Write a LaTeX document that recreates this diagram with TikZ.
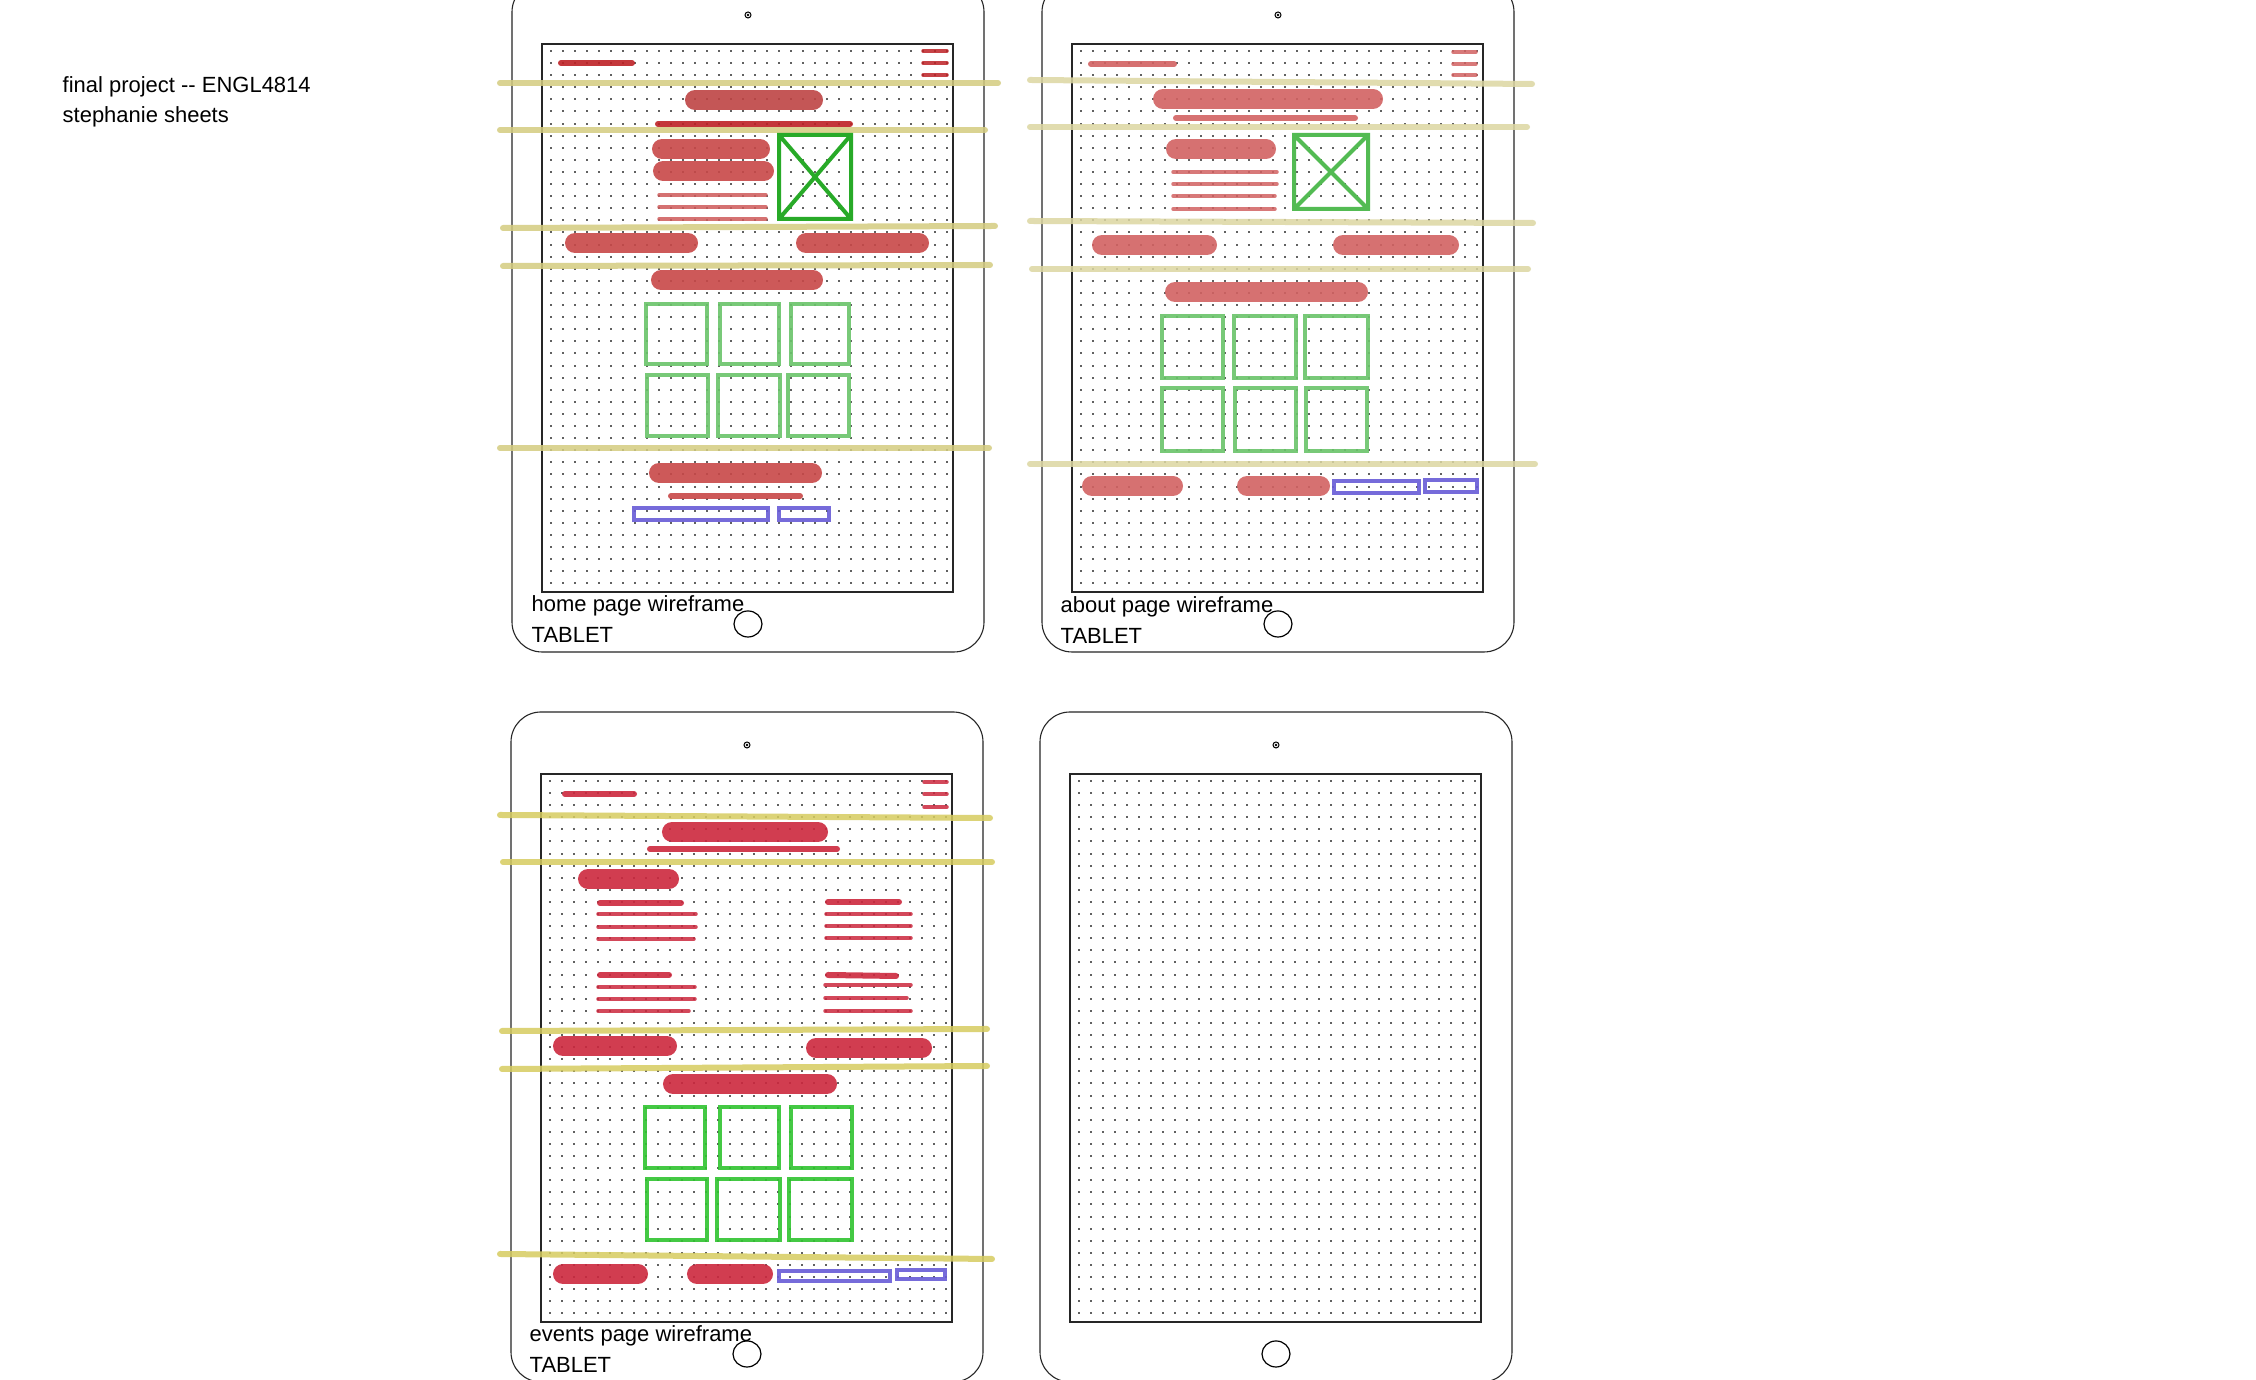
\documentclass[tikz,border=0pt]{standalone}
\usepackage{fontspec}
\setmainfont{Liberation Sans}
\usetikzlibrary{positioning}

\definecolor{guideA}{RGB}{212,204,128}
\definecolor{guideB}{RGB}{220,215,162}
\definecolor{guideC}{RGB}{214,204,96}
\definecolor{homeDark}{RGB}{190,34,38}
\definecolor{homeRed}{RGB}{200,72,72}
\definecolor{aboutRed}{RGB}{210,98,98}
\definecolor{eventRed}{RGB}{204,40,62}
\definecolor{imgGreen}{RGB}{40,170,40}
\definecolor{tileGreen}{RGB}{106,196,106}
\definecolor{brightGreen}{RGB}{48,196,48}
\definecolor{formBlue}{RGB}{104,92,214}

\tikzset{
    device/.style={draw=black!85, line width=0.011cm, rounded corners=0.3cm},
    screenbox/.style={draw=black!85, line width=0.015cm},
    dotrow/.style={draw=black!62, line width=0.02cm, dash pattern=on 0.02cm off 0.1cm},
    guideline/.style={line width=0.06cm, line cap=round, opacity=0.85},
    barthick/.style={line width=0.2cm, line cap=round, opacity=0.9},
    barthin/.style={line width=0.06cm, line cap=round, opacity=0.9},
    linehair/.style={line width=0.035cm, line cap=round, opacity=0.85},
    imgbox/.style={line width=0.04cm},
    tilebox/.style={line width=0.038cm, opacity=0.9},
    inputbox/.style={draw=formBlue, line width=0.036cm, opacity=0.9},
    lbl/.style={font=\fontsize{6.25pt}{7pt}\selectfont, inner sep=0pt, anchor=base west}
}

% one tablet outline with its dotted screen, #1 #2 = shift in px
\newcommand\drawtablet[2]{%
    \begin{scope}[shift={(#1,#2)}]
        \draw[device] (512,-18) rectangle (984,652);
        \foreach \r in {0,...,44}
            \draw[dotrow] (550,{51+12.1*\r}) -- (948,{51+12.1*\r});
        \draw[screenbox] (542,44) rectangle (953,592);
        \draw[line width=0.01cm] (748,15) circle (0.03cm);
        \fill (748,15) circle (0.013cm);
        \draw[line width=0.012cm] (748,624) ellipse (0.14cm and 0.13cm);
    \end{scope}}

\begin{document}
\begin{tikzpicture}[x=0.01cm, y=-0.01cm]
    \useasboundingbox (0,0) rectangle (2256,1380);
    \fill[white] (0,0) rectangle (2256,1380);

    % Draw the tablets
    \drawtablet{0}{0}
    \drawtablet{530}{0}
    \drawtablet{-1}{730}
    \drawtablet{528}{730}

    % Project title
    \node[lbl] (title) at (62,93) {final project -{}- ENGL4814};
    \node[lbl] (author) at ([yshift=-0.3cm]title.base west) {stephanie sheets};

    % Home page
    \draw[barthin, homeDark] (561,63) -- (632,63);
    \foreach \y in {51,63,75}
        \draw[linehair, homeDark] (923,\y) -- (947,\y);
    \draw[guideline, guideA] (500,83) -- (998,83);
    \draw[barthick, homeRed!95!black] (695,100) -- (813,100);
    \draw[barthin, homeDark] (658,124) -- (850,124);
    \draw[guideline, guideA] (500,130) -- (985,130);
    \draw[barthick, homeRed] (662,149) -- (760,149);
    \draw[barthick, homeRed] (663,171) -- (764,171);
    \foreach \y in {195,207,219}
        \draw[linehair, homeRed!90!white] (659,\y) -- (766,\y);
    \draw[imgbox, imgGreen] (779,135) rectangle (851,219)
        (779,135) -- (851,219) (779,219) -- (851,135);
    \draw[guideline, guideA] (503,228) -- (995,226);
    \draw[barthick, homeRed] (575,243) -- (688,243);
    \draw[barthick, homeRed] (806,243) -- (919,243);
    \draw[guideline, guideA] (503,266) -- (990,265);
    \draw[barthick, homeRed] (661,280) -- (813,280);
    \draw[tilebox, tileGreen] (646,304) rectangle (707,364) (720,304) rectangle (779,364)
        (791,304) rectangle (849,364);
    \draw[tilebox, tileGreen] (647,375) rectangle (708,436) (718,375) rectangle (780,436)
        (788,375) rectangle (849,436);
    \draw[guideline, guideA] (500,448) -- (989,448);
    \draw[barthick, homeRed] (659,473) -- (812,473);
    \draw[barthin, homeRed] (671,496) -- (800,496);
    \draw[inputbox] (634,508) rectangle (768,520) (779,508) rectangle (829,520);
    \node[lbl] (homeName) at (531,612) {home page wireframe};
    \node[lbl] (homeKind) at ([yshift=-0.3cm]homeName.base west) {TABLET};

    % About page
    \draw[barthin, aboutRed] (1091,64) -- (1174,64);
    \foreach \y in {52,64,75}
        \draw[linehair, aboutRed] (1453,\y) -- (1476,\y);
    \draw[guideline, guideB] (1030,80) -- (1532,84);
    \draw[barthick, aboutRed] (1163,99) -- (1373,99);
    \draw[barthin, aboutRed] (1176,118) -- (1355,118);
    \draw[guideline, guideB] (1030,127) -- (1527,127);
    \draw[barthick, aboutRed] (1176,149) -- (1266,149);
    \foreach \y/\e in {172/1277,184/1277,196/1275,209/1275}
        \draw[linehair, aboutRed] (1173,\y) -- (\e,\y);
    \draw[imgbox, imgGreen!80!white] (1294,135) rectangle (1368,209)
        (1294,135) -- (1368,209) (1294,209) -- (1368,135);
    \draw[guideline, guideB] (1030,221) -- (1533,223);
    \draw[barthick, aboutRed] (1102,245) -- (1207,245);
    \draw[barthick, aboutRed] (1343,245) -- (1449,245);
    \draw[guideline, guideB] (1032,269) -- (1528,269);
    \draw[barthick, aboutRed] (1175,292) -- (1358,292);
    \draw[tilebox, tileGreen] (1162,316) rectangle (1223,378) (1234,316) rectangle (1296,378)
        (1305,316) rectangle (1368,378);
    \draw[tilebox, tileGreen] (1162,388) rectangle (1223,451) (1235,388) rectangle (1296,451)
        (1306,388) rectangle (1367,451);
    \draw[guideline, guideB] (1030,464) -- (1535,464);
    \draw[barthick, aboutRed] (1092,486) -- (1173,486);
    \draw[barthick, aboutRed] (1247,486) -- (1320,486);
    \draw[inputbox] (1334,481) rectangle (1419,493) (1425,480) rectangle (1477,492);
    \node[lbl] (aboutName) at (1060,613) {about page wireframe};
    \node[lbl] (aboutKind) at ([yshift=-0.3cm]aboutName.base west) {TABLET};

    % Events page
    \draw[barthin, eventRed] (565,794) -- (634,794);
    \foreach \y in {782,794,807}
        \draw[linehair, eventRed] (924,\y) -- (947,\y);
    \draw[guideline, guideC] (500,815) -- (990,818);
    \draw[barthick, eventRed] (672,832) -- (818,832);
    \draw[barthin, eventRed] (650,849) -- (837,849);
    \draw[guideline, guideC] (503,862) -- (992,862);
    \draw[barthick, eventRed] (588,879) -- (669,879);
    \draw[barthin, eventRed] (600,903) -- (681,903);
    \foreach \y/\e in {914/696,927/696,939/694}
        \draw[linehair, eventRed] (598,\y) -- (\e,\y);
    \draw[barthin, eventRed] (828,902) -- (899,902);
    \foreach \y/\e in {914/911,926/911,938/911}
        \draw[linehair, eventRed] (826,\y) -- (\e,\y);
    \draw[barthin, eventRed] (600,975) -- (669,975);
    \foreach \y/\e in {987/695,999/695,1011/689}
        \draw[linehair, eventRed] (598,\y) -- (\e,\y);
    \draw[barthin, eventRed] (828,975) -- (896,976);
    \foreach \y/\e in {985/911,998/907,1011/911}
        \draw[linehair, eventRed] (825,\y) -- (\e,\y);
    \draw[guideline, guideC] (502,1031) -- (987,1029);
    \draw[barthick, eventRed] (563,1046) -- (667,1046);
    \draw[barthick, eventRed] (816,1048) -- (922,1048);
    \draw[guideline, guideC] (502,1069) -- (987,1066);
    \draw[barthick, eventRed] (673,1084) -- (827,1084);
    \draw[tilebox, brightGreen] (645,1107) rectangle (705,1168) (720,1107) rectangle (779,1168)
        (791,1107) rectangle (852,1168);
    \draw[tilebox, brightGreen] (647,1179) rectangle (707,1240) (717,1179) rectangle (780,1240)
        (789,1179) rectangle (852,1240);
    \draw[guideline, guideC] (500,1254) -- (992,1259);
    \draw[barthick, eventRed] (563,1274) -- (638,1274);
    \draw[barthick, eventRed] (697,1274) -- (763,1274);
    \draw[inputbox] (779,1271) rectangle (890,1281) (897,1270) rectangle (945,1279);
    \node[lbl] (eventName) at (529,1342) {events page wireframe};
    \node[lbl] (eventKind) at ([yshift=-0.3cm]eventName.base west) {TABLET};
\end{tikzpicture}
\end{document}
